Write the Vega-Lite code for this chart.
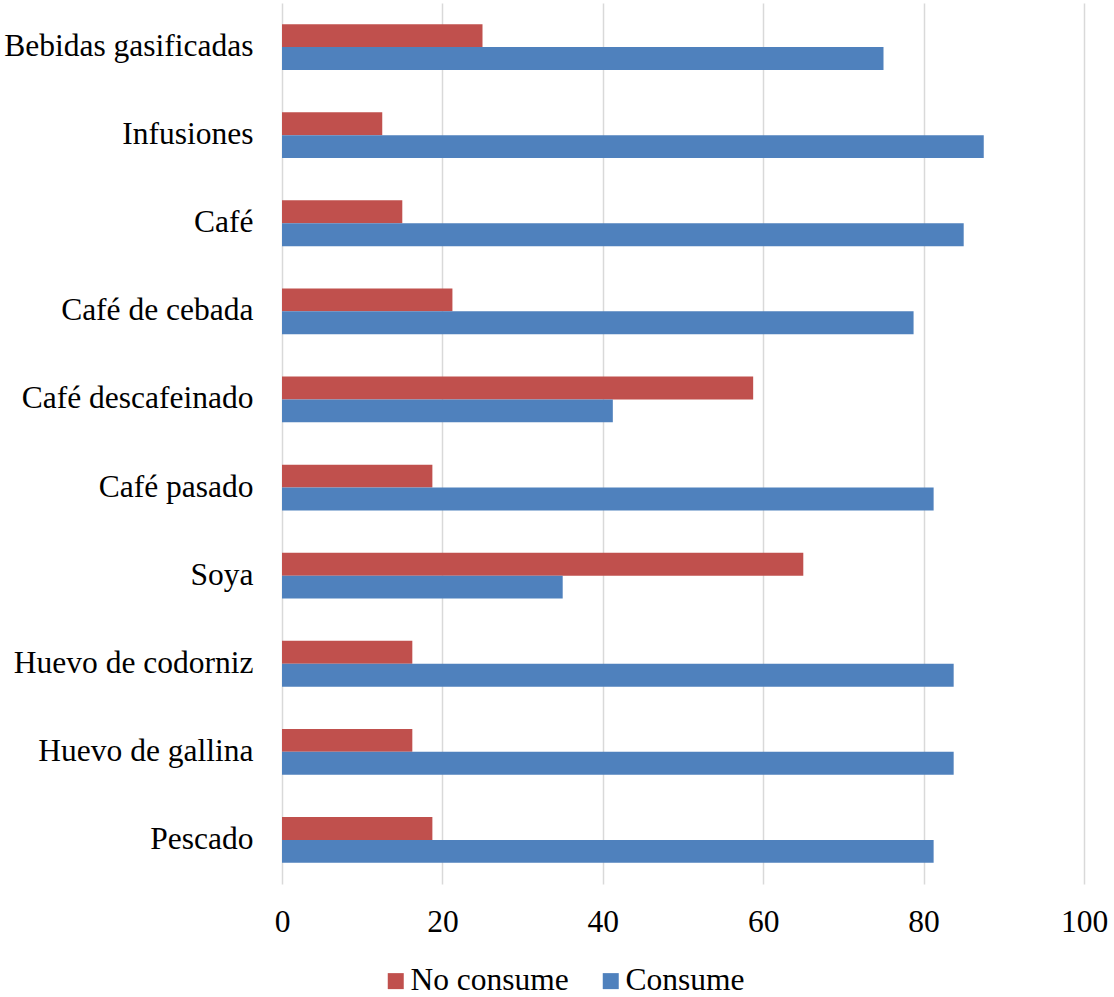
{
  "$schema": "https://vega.github.io/schema/vega-lite/v6.json",
  "width": 802,
  "height": 881,
  "padding": {"left": 3, "top": 3, "right": 10, "bottom": 0},
  "background": "white",
  "config": {
    "font": "Liberation Serif",
    "view": {"stroke": null}
  },
  "data": {
    "values": [
      {"alimento": "Bebidas gasificadas", "grupo": "No consume", "pct": 25},
      {"alimento": "Bebidas gasificadas", "grupo": "Consume", "pct": 75},
      {"alimento": "Infusiones", "grupo": "No consume", "pct": 12.5},
      {"alimento": "Infusiones", "grupo": "Consume", "pct": 87.5},
      {"alimento": "Café", "grupo": "No consume", "pct": 15},
      {"alimento": "Café", "grupo": "Consume", "pct": 85},
      {"alimento": "Café de cebada", "grupo": "No consume", "pct": 21.25},
      {"alimento": "Café de cebada", "grupo": "Consume", "pct": 78.75},
      {"alimento": "Café descafeinado", "grupo": "No consume", "pct": 58.75},
      {"alimento": "Café descafeinado", "grupo": "Consume", "pct": 41.25},
      {"alimento": "Café pasado", "grupo": "No consume", "pct": 18.75},
      {"alimento": "Café pasado", "grupo": "Consume", "pct": 81.25},
      {"alimento": "Soya", "grupo": "No consume", "pct": 65},
      {"alimento": "Soya", "grupo": "Consume", "pct": 35},
      {"alimento": "Huevo de codorniz", "grupo": "No consume", "pct": 16.25},
      {"alimento": "Huevo de codorniz", "grupo": "Consume", "pct": 83.75},
      {"alimento": "Huevo de gallina", "grupo": "No consume", "pct": 16.25},
      {"alimento": "Huevo de gallina", "grupo": "Consume", "pct": 83.75},
      {"alimento": "Pescado", "grupo": "No consume", "pct": 18.75},
      {"alimento": "Pescado", "grupo": "Consume", "pct": 81.25}
    ]
  },
  "mark": {"type": "bar"},
  "encoding": {
    "y": {
      "field": "alimento",
      "type": "nominal",
      "sort": null,
      "scale": {"paddingInner": 0.48, "paddingOuter": 0.24},
      "axis": {
        "title": null,
        "domain": false,
        "ticks": false,
        "labelFontSize": 31.5,
        "labelColor": "#000000",
        "labelPadding": 29,
        "labelLimit": 400
      }
    },
    "yOffset": {
      "field": "grupo",
      "type": "nominal",
      "sort": ["No consume", "Consume"],
      "scale": {"paddingInner": 0, "paddingOuter": 0}
    },
    "x": {
      "field": "pct",
      "type": "quantitative",
      "scale": {"domain": [0, 100], "nice": false},
      "axis": {
        "title": null,
        "values": [0, 20, 40, 60, 80, 100],
        "domain": false,
        "ticks": false,
        "grid": true,
        "gridColor": "#D9D9D9",
        "gridWidth": 1.5,
        "labelFontSize": 31.5,
        "labelColor": "#000000",
        "labelPadding": 22,
        "labelFlush": false
      }
    },
    "color": {
      "field": "grupo",
      "type": "nominal",
      "scale": {"domain": ["No consume", "Consume"], "range": ["#C0504D", "#4F81BD"]},
      "legend": {
        "title": null,
        "orient": "none",
        "legendX": 98,
        "legendY": 962,
        "padding": 0,
        "direction": "horizontal",
        "symbolType": "square",
        "symbolSize": 256,
        "symbolStrokeWidth": 0,
        "labelFontSize": 31.5,
        "labelColor": "#000000",
        "labelOffset": -1,
        "columnPadding": 26
      }
    }
  }
}
